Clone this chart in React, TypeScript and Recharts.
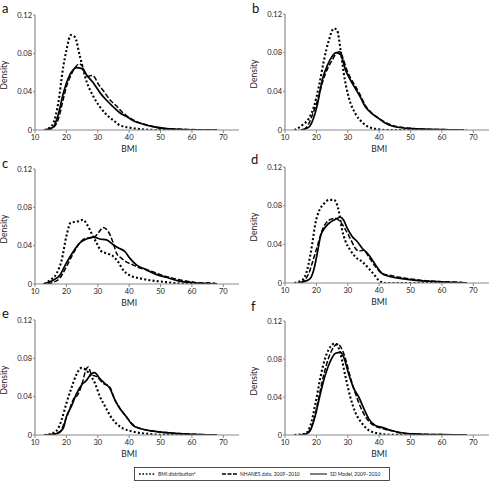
import React from "react";
import { LineChart, Line, XAxis, YAxis } from "recharts";

type Pair = [number, number];

// BMI values (x) and densities (y)
const aDist: Pair[] = [[13,0],[14.5,0.002],[15.8,0.007],[17.4,0.028],[19,0.066],[20,0.083],[21.4,0.099],[22.7,0.097],[24.3,0.077],[26.5,0.05],[28.6,0.035],[30.7,0.024],[32.8,0.016],[35,0.01],[37,0.005],[41,0.002],[46,0.0003],[50,0],[68,0]];
const aNhanes: Pair[] = [[14,0],[16,0.003],[17.5,0.012],[19,0.032],[20,0.045],[21,0.054],[22,0.061],[23,0.066],[24,0.069],[25,0.067],[26,0.06],[27,0.056],[28,0.057],[29,0.055],[30,0.049],[32,0.04],[34,0.031],[36,0.025],[38,0.018],[40,0.013],[43,0.008],[46,0.005],[50,0.002],[55,0.001],[60,0.0005],[68,0]];
const aModel: Pair[] = [[13,0],[15.8,0.003],[17.4,0.016],[19,0.038],[20.6,0.054],[22.2,0.063],[23.3,0.065],[24.9,0.064],[26.5,0.057],[28.6,0.049],[30.7,0.039],[32.8,0.031],[35,0.024],[37,0.018],[39.2,0.014],[41.3,0.0097],[44.5,0.006],[47.7,0.0035],[52,0.0014],[57,0.0005],[68,0]];

const bDist: Pair[] = [[13,0],[15.5,0.005],[17.6,0.012],[19.2,0.024],[20.8,0.045],[22.4,0.072],[24,0.093],[25.6,0.105],[26.6,0.103],[27.7,0.083],[28.7,0.059],[30.3,0.034],[32.4,0.017],[34.6,0.008],[36.7,0.003],[39.8,0.0007],[42,0],[68,0]];
const bNhanes: Pair[] = [[16,0],[17.5,0.006],[19,0.018],[20.5,0.032],[22,0.05],[23.5,0.063],[25,0.072],[26.5,0.08],[27.5,0.081],[28.5,0.074],[29.5,0.064],[31,0.053],[32.5,0.045],[34,0.036],[35.5,0.026],[37.5,0.018],[40,0.012],[42,0.008],[45,0.004],[50,0.0018],[55,0.0008],[62,0.0003],[67,0]];
const bModel: Pair[] = [[15,0],[17.6,0.003],[18.7,0.009],[20.3,0.026],[21.9,0.052],[23.4,0.066],[25,0.076],[26.3,0.08],[27.7,0.078],[29.3,0.062],[30.8,0.052],[32.4,0.043],[34,0.034],[35.6,0.024],[37.7,0.017],[39.8,0.012],[42,0.007],[45,0.0034],[50.4,0.0014],[61,0.0003],[67,0]];

const cDist: Pair[] = [[13,0],[14.8,0.004],[16.9,0.011],[18.5,0.025],[20,0.05],[21.4,0.064],[23.2,0.065],[25.3,0.067],[26.6,0.062],[28,0.053],[29.6,0.043],[31.2,0.034],[32.8,0.032],[34.9,0.029],[36.5,0.023],[38,0.015],[40.2,0.009],[43.3,0.006],[46.5,0.004],[51.8,0.002],[56,0.0005],[60,0],[68,0]];
const cNhanes: Pair[] = [[14,0],[16,0.002],[17.9,0.006],[20,0.018],[22.2,0.032],[24.3,0.043],[26.4,0.048],[28.5,0.048],[30.1,0.053],[31.7,0.059],[33.3,0.055],[34.9,0.043],[36,0.032],[37.5,0.027],[39.1,0.023],[41.2,0.02],[43.3,0.017],[46.5,0.014],[49.7,0.01],[53.9,0.006],[60.3,0.002],[63,0.001],[65.5,0.0012],[68,0]];
const cModel: Pair[] = [[12.6,0],[15.8,0.004],[17.9,0.009],[20,0.022],[22.2,0.034],[24.3,0.043],[26.4,0.047],[28.5,0.049],[30.6,0.047],[32.8,0.046],[34.9,0.041],[37,0.037],[38.6,0.034],[40.2,0.027],[42.3,0.02],[45.4,0.015],[48.6,0.01],[51.8,0.007],[56,0.003],[62.4,0.001],[68,0]];

const dDist: Pair[] = [[13,0],[15.5,0.003],[17.1,0.014],[18.7,0.041],[19.7,0.062],[20.8,0.074],[22.4,0.082],[24,0.086],[25.6,0.086],[27.1,0.075],[28.2,0.055],[29.3,0.043],[30.8,0.034],[32.4,0.027],[34.6,0.022],[36.7,0.015],[38.8,0.007],[39.8,0.003],[42,0],[68,0]];
const dNhanes: Pair[] = [[15,0],[16.5,0.004],[17.6,0.01],[18.7,0.021],[20.3,0.038],[21.9,0.055],[24,0.065],[26.1,0.067],[27.7,0.063],[29.3,0.055],[30.8,0.046],[32.4,0.036],[33.5,0.033],[35.1,0.034],[36.7,0.027],[38.8,0.017],[40.9,0.01],[44.1,0.0075],[48.3,0.005],[54.7,0.0024],[60,0.0014],[66,0.0007],[68,0]];
const dModel: Pair[] = [[14,0],[16.6,0.002],[18.1,0.005],[19.2,0.014],[20.3,0.031],[21.3,0.048],[22.9,0.058],[24.5,0.063],[26.1,0.066],[27.7,0.068],[28.7,0.065],[29.8,0.057],[31.4,0.048],[33,0.043],[34.6,0.036],[36.7,0.029],[38.8,0.019],[40.9,0.01],[43,0.007],[47.2,0.0045],[52.5,0.0024],[61,0.001],[68,0]];

const eDist: Pair[] = [[13,0],[15.8,0.002],[17.4,0.007],[18.5,0.016],[20,0.033],[21.6,0.049],[23.2,0.063],[24.8,0.07],[26.2,0.068],[27.5,0.063],[29.1,0.054],[30.7,0.04],[32.3,0.03],[33.8,0.021],[35.9,0.012],[38,0.007],[41.2,0.0035],[45.4,0.0014],[50,0.0003],[68,0]];
const eNhanes: Pair[] = [[15,0],[18,0.0035],[19.5,0.014],[20.6,0.023],[22.2,0.037],[23.8,0.043],[25.3,0.057],[26.2,0.068],[27,0.071],[28,0.063],[29.6,0.061],[31.7,0.054],[33.8,0.05],[35.4,0.037],[37,0.028],[39.1,0.019],[41.2,0.011],[43.3,0.007],[47.6,0.0042],[51.8,0.0025],[58,0.0012],[68,0]];
const eModel: Pair[] = [[13,0],[16.9,0.0015],[19,0.007],[20,0.019],[21.6,0.03],[23.2,0.043],[24.8,0.052],[26.4,0.057],[28,0.064],[29,0.065],[30.6,0.059],[32.2,0.054],[33.8,0.049],[35.4,0.037],[37,0.028],[39.1,0.019],[41.2,0.01],[43.3,0.007],[47.6,0.004],[51.8,0.0024],[58,0.001],[68,0]];

const fDist: Pair[] = [[13,0],[16.6,0.0017],[18.1,0.01],[19.7,0.033],[21.3,0.061],[22.9,0.082],[24.5,0.093],[25.6,0.096],[26.6,0.095],[27.7,0.085],[29.3,0.061],[30.8,0.04],[32.4,0.024],[34.6,0.012],[36.7,0.005],[39.8,0.0017],[43,0.0003],[48,0],[68,0]];
const fNhanes: Pair[] = [[15,0],[17.6,0.0035],[19.2,0.016],[20.8,0.04],[22.4,0.064],[24,0.082],[25.6,0.093],[26.6,0.096],[27.7,0.093],[29.3,0.08],[30.8,0.061],[32.4,0.044],[34,0.03],[36.1,0.017],[38.3,0.01],[40.9,0.007],[43,0.005],[44.5,0.0045],[46.2,0.0024],[50,0.0012],[60,0.0004],[68,0]];
const fModel: Pair[] = [[15,0],[16.6,0.0008],[18.1,0.005],[19.7,0.021],[21.3,0.044],[22.9,0.064],[24.5,0.078],[26.1,0.086],[27.7,0.087],[28.7,0.082],[30.3,0.064],[31.9,0.049],[33.5,0.04],[35.1,0.028],[36.7,0.017],[38.8,0.01],[40.9,0.008],[44.1,0.0045],[47.2,0.0024],[52.5,0.001],[60,0.0003],[68,0]];

const xTicks = [10, 20, 30, 40, 50, 60, 70];
const yTicks = [0, 0.04, 0.08, 0.12];
const panelLetters = ["a", "b", "c", "d", "e", "f"];
const legendLabels = ["BMI distribution", "NHANES data, 2009\u20132010", "SD Model, 2009\u20132010"];

const FONT = "Lato, 'Open Sans', sans-serif";
const AXIS = "#8a8a8a";

const toPts = (arr: Pair[]) => arr.map(([x, y]) => ({ x, y }));

type PanelProps = {
  plotLeft: number;
  plotTop: number;
  plotBottom: number;
  dist: Pair[];
  nhanes: Pair[];
  model: Pair[];
};

function Panel({ plotLeft, plotTop, plotBottom, dist, nhanes, model }: PanelProps) {
  const W = 246;
  const padTop = 15;
  const yW = 35;
  const xH = 30;
  const plotH = plotBottom - plotTop;
  const H = padTop + plotH + xH;
  const plotW = 204;
  const rightM = W - yW - plotW;
  const bmiLabel = (props: any) => {
    const vb = props.viewBox || {};
    const cx = vb.x + (vb.width * 60) / 65 / 2;
    return (
      <text x={cx} y={vb.y + 22} textAnchor="middle" fontSize={8.5} fontFamily={FONT} fill="#222">
        BMI
      </text>
    );
  };
  const densLabel = (props: any) => {
    const vb = props.viewBox || {};
    const cy = vb.y + 60;
    const x = 7;
    return (
      <text x={x} y={cy} transform={`rotate(-90, ${x}, ${cy})`} textAnchor="middle" fontSize={8.5} fontFamily={FONT} fill="#222">
        Density
      </text>
    );
  };
  return (
    <div style={{ position: "absolute", left: plotLeft - yW, top: plotTop - padTop, width: W, height: H }}>
      <LineChart width={W} height={H} margin={{ top: padTop, right: rightM, bottom: 0, left: 0 }}>
        <XAxis
          type="number"
          dataKey="x"
          domain={[10, 75]}
          ticks={xTicks}
          allowDataOverflow
          height={xH}
          tickSize={3}
          tickMargin={2}
          stroke={AXIS}
          axisLine={{ stroke: AXIS, strokeWidth: 1.2 }}
          tickLine={{ stroke: AXIS }}
          tick={{ fontSize: 7.5, fontFamily: FONT, fill: "#222" }}
          label={bmiLabel}
        />
        <YAxis
          type="number"
          dataKey="y"
          domain={[0, 0.12]}
          ticks={yTicks}
          allowDataOverflow
          width={yW}
          tickSize={2}
          tickMargin={1}
          stroke={AXIS}
          axisLine={{ stroke: AXIS, strokeWidth: 1.2 }}
          tickLine={{ stroke: AXIS }}
          tick={{ fontSize: 7.5, fontFamily: FONT, fill: "#222" }}
          tickFormatter={(v: number) => (v === 0 ? "0" : v.toFixed(2))}
          label={densLabel}
        />
        <Line data={toPts(dist)} dataKey="y" type="monotone" stroke="#000" strokeWidth={2.1} strokeDasharray="2 2.2" dot={false} activeDot={false} isAnimationActive={false} />
        <Line data={toPts(nhanes)} dataKey="y" type="monotone" stroke="#000" strokeWidth={1.5} strokeDasharray="5 2" dot={false} activeDot={false} isAnimationActive={false} />
        <Line data={toPts(model)} dataKey="y" type="monotone" stroke="#000" strokeWidth={1.7} dot={false} activeDot={false} isAnimationActive={false} />
      </LineChart>
    </div>
  );
}

const panels = [
  { plotLeft: 35, plotTop: 15, plotBottom: 130, dist: aDist, nhanes: aNhanes, model: aModel, lx: 2, ly: 13 },
  { plotLeft: 285, plotTop: 14, plotBottom: 130, dist: bDist, nhanes: bNhanes, model: bModel, lx: 252, ly: 13 },
  { plotLeft: 35, plotTop: 169, plotBottom: 284, dist: cDist, nhanes: cNhanes, model: cModel, lx: 2, ly: 168 },
  { plotLeft: 285, plotTop: 167, plotBottom: 283, dist: dDist, nhanes: dNhanes, model: dModel, lx: 251, ly: 164 },
  { plotLeft: 35, plotTop: 320, plotBottom: 435, dist: eDist, nhanes: eNhanes, model: eModel, lx: 2, ly: 318 },
  { plotLeft: 285, plotTop: 321, plotBottom: 435, dist: fDist, nhanes: fNhanes, model: fModel, lx: 251, ly: 311 },
];

export default function App() {
  return (
    <div style={{ position: "absolute", left: 0, top: 0, width: 492, height: 485, overflow: "hidden", background: "#fff" }}>
      {panels.map((p, i) => (
        <Panel key={i} plotLeft={p.plotLeft} plotTop={p.plotTop} plotBottom={p.plotBottom} dist={p.dist} nhanes={p.nhanes} model={p.model} />
      ))}
      <svg width={492} height={485} style={{ position: "absolute", left: 0, top: 0, pointerEvents: "none" }}>
        {panels.map((p, i) => (
          <text key={i} x={p.lx} y={p.ly} fontSize={13} fontFamily={FONT} fill="#111">
            {panelLetters[i]}
          </text>
        ))}
        <g transform="translate(134,467)">
          <rect x={0.5} y={0.5} width={255} height={13} fill="#fff" stroke="#222" strokeWidth={0.8} />
          <line x1={5} x2={22} y1={7} y2={7} stroke="#000" strokeWidth={1.6} strokeDasharray="1.6 1.8" />
          <text x={24} y={8.8} fontSize={5} fontFamily={FONT} fill="#222">
            {legendLabels[0]}
            <tspan fontSize={3.5} dy={-1.8}>a</tspan>
          </text>
          <line x1={88} x2={103} y1={7} y2={7} stroke="#000" strokeWidth={1.3} strokeDasharray="4 1.5" />
          <text x={106} y={8.8} fontSize={5} fontFamily={FONT} fill="#222">{legendLabels[1]}</text>
          <line x1={176} x2={193} y1={7} y2={7} stroke="#000" strokeWidth={1} />
          <text x={196} y={8.8} fontSize={5} fontFamily={FONT} fill="#222">{legendLabels[2]}</text>
        </g>
      </svg>
    </div>
  );
}
